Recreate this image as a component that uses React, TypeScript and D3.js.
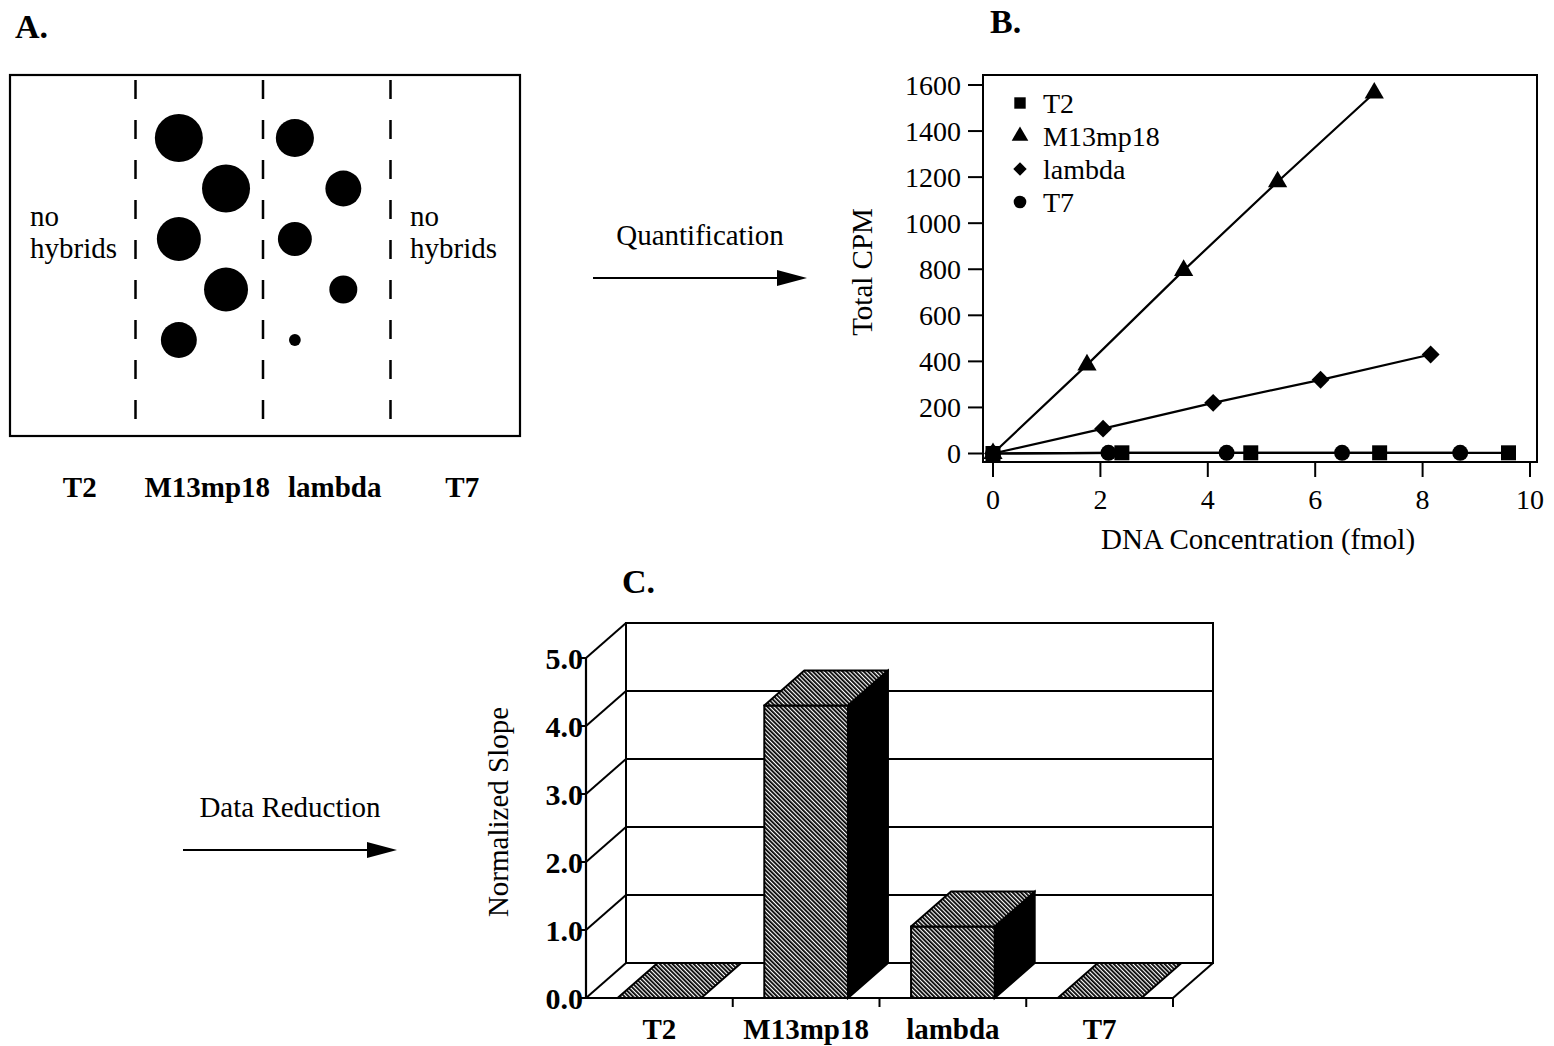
// @ts-nocheck
import React from 'react'
import * as d3 from 'd3'

const FONT = '"Liberation Serif", "Times New Roman", Times, serif'

// ---- panel A: dot blot ----
const lanes = ['T2', 'M13mp18', 'lambda', 'T7']
const m13Spots = [100, 100, 84, 84, 56]
const lambdaSpots = [63, 56, 50, 34, 6]

// ---- panel B: CPM vs concentration ----
const cpmTicks = [0, 200, 400, 600, 800, 1000, 1200, 1400, 1600]
const concTicks = [0, 2, 4, 6, 8, 10]
const t2Conc = [0, 2.4, 4.8, 7.2, 9.6]
const t2Cpm = [0, 3, 3, 3, 3]
const m13Conc = [0, 1.75, 3.55, 5.3, 7.1]
const m13Cpm = [0, 385, 795, 1180, 1565]
const lambdaConc = [0, 2.05, 4.1, 6.1, 8.15]
const lambdaCpm = [0, 108, 220, 320, 430]
const t7Conc = [0, 2.15, 4.35, 6.5, 8.7]
const t7Cpm = [0, 3, 3, 3, 3]

// ---- panel C: normalized slope ----
const slopeValues = [0, 4.3, 1.05, 0]
const slopeTicks = [0, 1, 2, 3, 4, 5]
const slopeLabels = ['0.0', '1.0', '2.0', '3.0', '4.0', '5.0']

const txt = { fontFamily: FONT, fill: '#000' }

const Arrow = ({ x1, x2, y, label, labelY }) => (
  <g>
    <text x={(x1 + x2) / 2} y={labelY} textAnchor="middle" fontSize={29} style={txt}>
      {label}
    </text>
    <line x1={x1} x2={x2 - 25} y1={y} y2={y} stroke="#000" strokeWidth={2} />
    <polygon points={`${x2 - 30},${y - 8} ${x2},${y} ${x2 - 30},${y + 8}`} fill="#000" />
  </g>
)

const PanelA = () => {
  const lane = d3.scaleBand().domain(lanes).range([8, 518])
  const row = d3.scaleLinear().domain([0, 4]).range([138, 340])
  const r = d3.scaleSqrt().domain([0, 100]).range([0, 24])
  const cols = { M13mp18: [0.34, 0.71], lambda: [0.25, 0.63] }
  const spots = [
    { lane: 'M13mp18', values: m13Spots },
    { lane: 'lambda', values: lambdaSpots },
  ]
  return (
    <g>
      <text x={15} y={38} fontSize={34} fontWeight="bold" style={txt}>A.</text>
      <rect x={10} y={75} width={510} height={361} fill="none" stroke="#000" strokeWidth={2.2} />
      {lanes.slice(1).map((l) => (
        <line
          key={l}
          x1={lane(l)}
          x2={lane(l)}
          y1={80}
          y2={432}
          stroke="#000"
          strokeWidth={2.5}
          strokeDasharray="19 21"
        />
      ))}
      {spots.map((s) =>
        s.values.map((v, i) => (
          <circle
            key={s.lane + i}
            cx={lane(s.lane) + lane.bandwidth() * cols[s.lane][i % 2]}
            cy={row(i)}
            r={r(v)}
            fill="#000"
          />
        ))
      )}
      <text x={30} y={226} fontSize={29} style={txt}>no</text>
      <text x={30} y={258} fontSize={29} style={txt}>hybrids</text>
      <text x={410} y={226} fontSize={29} style={txt}>no</text>
      <text x={410} y={258} fontSize={29} style={txt}>hybrids</text>
      {lanes.map((l) => (
        <text
          key={l}
          x={lane(l) + lane.bandwidth() / 2 + 8}
          y={497}
          textAnchor="middle"
          fontSize={29}
          fontWeight="bold"
          style={txt}
        >
          {l}
        </text>
      ))}
    </g>
  )
}

const PanelB = () => {
  const x = d3.scaleLinear().domain([0, 10]).range([993, 1530])
  const y = d3.scaleLinear().domain([0, 1600]).range([453.5, 85])
  const box = { left: 983, right: 1537, top: 75, bottom: 462 }
  const line = d3
    .line()
    .x((d) => x(d[0]))
    .y((d) => y(d[1]))

  const series = [
    { name: 'T2', xs: t2Conc, ys: t2Cpm, type: d3.symbolSquare, size: 225, legend: 130, rot: 0 },
    { name: 'M13mp18', xs: m13Conc, ys: m13Cpm, type: d3.symbolTriangle, size: 160, legend: 120, rot: 0 },
    { name: 'lambda', xs: lambdaConc, ys: lambdaCpm, type: d3.symbolSquare, size: 160, legend: 90, rot: 45 },
    { name: 'T7', xs: t7Conc, ys: t7Cpm, type: d3.symbolCircle, size: 200, legend: 125, rot: 0 },
  ]

  return (
    <g>
      <text x={990} y={33} fontSize={34} fontWeight="bold" style={txt}>B.</text>
      <rect
        x={box.left}
        y={box.top}
        width={box.right - box.left}
        height={box.bottom - box.top}
        fill="none"
        stroke="#000"
        strokeWidth={2}
      />
      {cpmTicks.map((t) => (
        <g key={t}>
          <line x1={box.left - 15} x2={box.left} y1={y(t)} y2={y(t)} stroke="#000" strokeWidth={2} />
          <text x={961} y={y(t)} dy="0.35em" textAnchor="end" fontSize={28} style={txt}>
            {t}
          </text>
        </g>
      ))}
      {concTicks.map((t) => (
        <g key={t}>
          <line x1={x(t)} x2={x(t)} y1={box.bottom} y2={box.bottom + 15} stroke="#000" strokeWidth={2} />
          <text x={x(t)} y={509} textAnchor="middle" fontSize={28} style={txt}>
            {t}
          </text>
        </g>
      ))}
      <text x={1258} y={549} textAnchor="middle" fontSize={29} style={txt}>
        DNA Concentration (fmol)
      </text>
      <text
        transform="translate(872, 272) rotate(-90)"
        textAnchor="middle"
        fontSize={29}
        style={txt}
      >
        Total CPM
      </text>

      {series.map((s) => {
        const pts = s.xs.map((v, i) => [v, s.ys[i]])
        const sym = d3.symbol(s.type, s.size)
        return (
          <g key={s.name}>
            <path d={line(pts)} fill="none" stroke="#000" strokeWidth={2.2} />
            {pts.map((p, i) => (
              <path
                key={i}
                d={sym()}
                transform={`translate(${x(p[0])}, ${y(p[1])}) rotate(${s.rot})`}
                fill="#000"
              />
            ))}
          </g>
        )
      })}

      {series.map((s, i) => (
        <g key={s.name} transform={`translate(1020, ${103 + i * 33})`}>
          <path d={d3.symbol(s.type, s.legend)()} transform={`rotate(${s.rot})`} fill="#000" />
          <text x={23} dy="0.35em" fontSize={28} style={txt}>
            {s.name}
          </text>
        </g>
      ))}
    </g>
  )
}

const PanelC = () => {
  const dx = 40
  const dy = 35
  const x0 = 586
  const x1 = 1173
  const x = d3.scaleBand().domain(lanes).range([x0, x1]).paddingInner(0.43).paddingOuter(0.215)
  const y = d3.scaleLinear().domain([0, 5]).range([998, 658])
  const step = x.step()
  const bw = x.bandwidth()

  return (
    <g>
      <defs>
        <pattern id="hatch" width={3} height={3} patternUnits="userSpaceOnUse" patternTransform="rotate(-45)">
          <rect width={3} height={3} fill="#fff" />
          <line x1={0.9} y1={0} x2={0.9} y2={3} stroke="#000" strokeWidth={1.8} />
        </pattern>
      </defs>
      <text x={622} y={593} fontSize={34} fontWeight="bold" style={txt}>C.</text>

      {/* back wall */}
      <rect
        x={x0 + dx}
        y={y(5) - dy}
        width={x1 - x0}
        height={y(0) - y(5)}
        fill="#fff"
        stroke="#000"
        strokeWidth={2}
      />
      {slopeTicks.slice(1, 5).map((t) => (
        <line key={t} x1={x0 + dx} x2={x1 + dx} y1={y(t) - dy} y2={y(t) - dy} stroke="#000" strokeWidth={2} />
      ))}
      {/* left wall diagonals */}
      {slopeTicks.map((t) => (
        <line key={t} x1={x0} y1={y(t)} x2={x0 + dx} y2={y(t) - dy} stroke="#000" strokeWidth={2} />
      ))}
      {/* floor */}
      <line x1={x1} y1={y(0)} x2={x1 + dx} y2={y(0) - dy} stroke="#000" strokeWidth={2} />

      {/* bars */}
      {lanes.map((c, i) => {
        const v = slopeValues[i]
        const bx = x(c)
        const yt = y(v)
        const yb = y(0)
        const top = `${bx},${yt} ${bx + dx},${yt - dy} ${bx + bw + dx},${yt - dy} ${bx + bw},${yt}`
        const side = `${bx + bw},${yt} ${bx + bw + dx},${yt - dy} ${bx + bw + dx},${yb - dy} ${bx + bw},${yb}`
        return (
          <g key={c}>
            {v > 0 && (
              <>
                <polygon points={side} fill="#000" stroke="#000" strokeWidth={2} />
                <rect x={bx} y={yt} width={bw} height={yb - yt} fill="url(#hatch)" stroke="#000" strokeWidth={2} />
              </>
            )}
            <polygon points={top} fill="url(#hatch)" stroke="#000" strokeWidth={2} strokeLinejoin="round" />
          </g>
        )
      })}

      {/* front axes */}
      <line x1={x0} x2={x1} y1={y(0)} y2={y(0)} stroke="#000" strokeWidth={2.2} />
      <line x1={x0} x2={x0} y1={y(0)} y2={y(5)} stroke="#000" strokeWidth={2.2} />
      {slopeTicks.map((t, i) => (
        <g key={t}>
          <line x1={x0 - 6} x2={x0} y1={y(t)} y2={y(t)} stroke="#000" strokeWidth={2} />
          <text x={x0 - 3} y={y(t)} dy="0.35em" textAnchor="end" fontSize={30} fontWeight="bold" style={txt}>
            {slopeLabels[i]}
          </text>
        </g>
      ))}
      {[1, 2, 3, 4].map((k) => (
        <line
          key={k}
          x1={x0 + step * k}
          x2={x0 + step * k}
          y1={y(0)}
          y2={y(0) + 9}
          stroke="#000"
          strokeWidth={2}
        />
      ))}
      {lanes.map((c) => (
        <text key={c} x={x(c) + bw / 2} y={1039} textAnchor="middle" fontSize={29} fontWeight="bold" style={txt}>
          {c}
        </text>
      ))}
      <text transform="translate(508, 812) rotate(-90)" textAnchor="middle" fontSize={29} style={txt}>
        Normalized Slope
      </text>
    </g>
  )
}

const App = () => {
  return (
    <svg
      width={1554}
      height={1046}
      style={{ position: 'absolute', left: 0, top: 0, display: 'block', background: '#fff' }}
    >
      <rect width={1554} height={1046} fill="#fff" />
      <PanelA />
      <Arrow x1={593} x2={807} y={278} label="Quantification" labelY={245} />
      <PanelB />
      <Arrow x1={183} x2={397} y={850} label="Data Reduction" labelY={817} />
      <PanelC />
    </svg>
  )
}

export default App
